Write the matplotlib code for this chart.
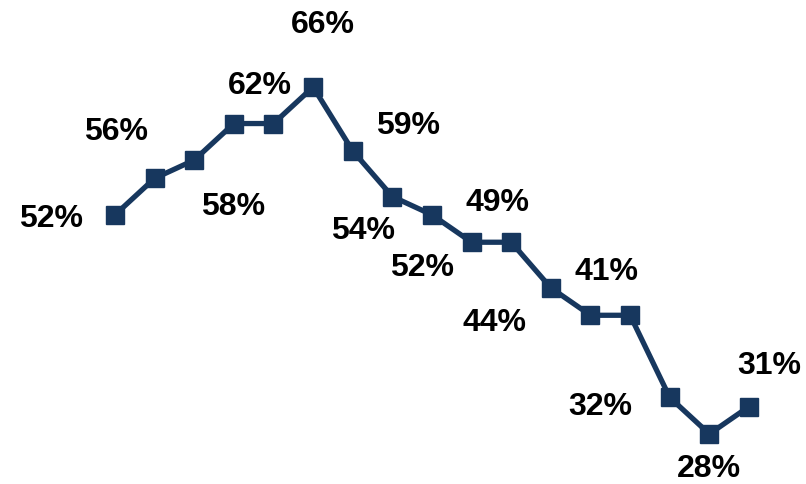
import matplotlib
matplotlib.use("Agg")
import matplotlib.pyplot as plt

values = [52, 56, 58, 62, 62, 66, 59, 54, 52, 49, 49, 44, 41, 41, 32, 28, 31]
label_show = [True, True, True, False, True, True, True, True, True, True, False, True, True, False, True, True, True]
# label offsets in pixels (dx, dy) relative to marker
label_offsets = [(-64, -4), (-39, 46), (39, -47), (0, 0), (-14, 38), (10, 62),
                 (55, 25), (-29, -34), (-10, -53), (26, 39), (0, 0), (-56, -35),
                 (16, 43), (0, 0), (-69, -10), (0, -35), (20, 41)]

color = "#17375E"
fig = plt.figure(figsize=(8.06, 4.84), dpi=100)
ax = fig.add_axes([0, 0, 1, 1])
x = list(range(len(values)))
ax.plot(x, values, color=color, lw=3.8, marker="s", ms=13, mfc=color, mec=color, solid_joinstyle="miter")
for i, v in enumerate(values):
    if label_show[i]:
        dx, dy = label_offsets[i]
        ax.annotate(f"{v}%", (i, v), xytext=(dx, dy), textcoords="offset pixels",
                    ha="center", va="center", fontsize=23, fontweight="bold",
                    family="Liberation Sans", color="black")
ax.set_xlim(-2.902, 17.4385)
ax.set_ylim(22.52, 75.53)
ax.axis("off")
fig.savefig("out.png", dpi=100)
